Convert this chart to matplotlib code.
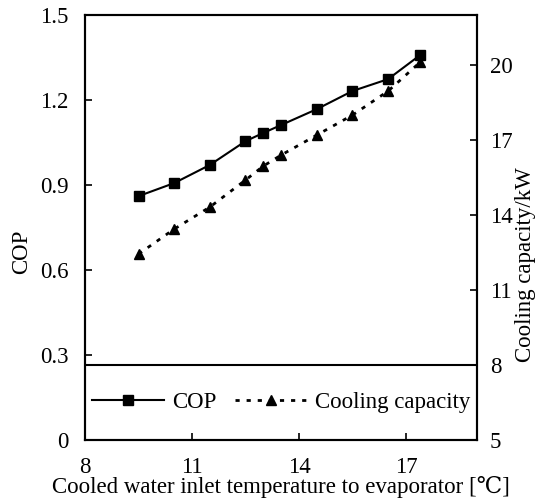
import matplotlib

matplotlib.use('agg')
import matplotlib.pyplot as plt

plt.rcParams['font.family'] = ['Liberation Serif', 'DejaVu Serif']
plt.rcParams['font.size'] = 16.5

# cooled water inlet temperature, deg C
temps = [9.5, 10.5, 11.5, 12.5, 13.0, 13.5, 14.5, 15.5, 16.5, 17.4]
cop = [0.861, 0.907, 0.971, 1.055, 1.084, 1.112, 1.168, 1.232, 1.274, 1.359]
capacity = [12.44, 13.44, 14.32, 15.4, 15.96, 16.4, 17.2, 18.0, 18.96, 20.12]

cop_ticks = [0, 0.3, 0.6, 0.9, 1.2, 1.5]
cop_ticklabels = ['0', '0.3', '0.6', '0.9', '1.2', '1.5']
cap_ticks = [5, 8, 11, 14, 17, 20]
temp_ticks = [8, 11, 14, 17]

fig = plt.figure(figsize=(5.35, 5.04), dpi=100)
ax = fig.add_axes([0.159, 0.127, 0.733, 0.843])
ax2 = ax.twinx()

l1, = ax.plot(temps, cop, color='black', lw=1.5, marker='s', markersize=7.5,
              label='COP')
l2, = ax2.plot(temps, capacity, color='black', lw=2, linestyle=(0, (1.5, 2.5)),
               marker='^', markersize=7.5, label='Cooling capacity')

ax.set_xlim(8, 19)
ax.set_ylim(0, 1.5)
ax2.set_ylim(5, 22)
ax.set_xticks(temp_ticks)
ax.set_yticks(cop_ticks)
ax.set_yticklabels(cop_ticklabels)
ax2.set_yticks(cap_ticks)

ax.tick_params(direction='in', length=5, width=1.2)
ax2.tick_params(direction='in', length=5, width=1.2)
ax.tick_params(axis='y', pad=12)
ax.tick_params(axis='x', pad=12)
ax2.tick_params(axis='y', pad=9)

for a in (ax, ax2):
    for s in a.spines.values():
        s.set_linewidth(1.5)

ax.set_xlabel('Cooled water inlet temperature to evaporator [℃]')
ax.xaxis.set_label_coords(0.5, -0.085)
ax.set_ylabel('COP')
ax.yaxis.set_label_coords(-0.135, 0.442)
ax2.set_ylabel('Cooling capacity/kW')
ax2.yaxis.set_label_coords(1.097, 0.412)

# legend box: top edge line, the rest is the axes frame
ax2.axhline(8, color='black', lw=1.5)
leg = ax2.legend(handles=[l1, l2], loc='center', ncol=2,
                 bbox_to_anchor=(0.5, 0.089), frameon=False,
                 handlelength=3.15, handletextpad=0.35, columnspacing=0.8,
                 borderaxespad=0, borderpad=0)

plt.savefig('out.png', dpi=100)
